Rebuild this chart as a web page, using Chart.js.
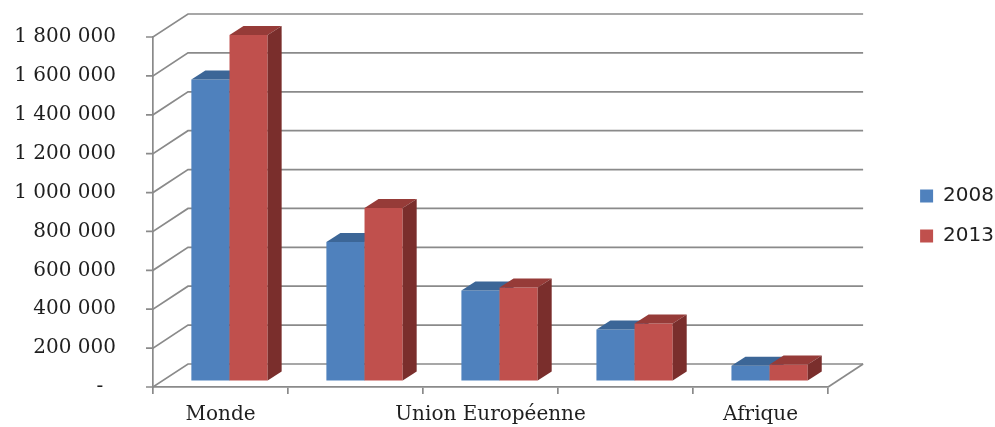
<!DOCTYPE html>
<html>
<head>
<meta charset="utf-8">
<script src="https://cdn.jsdelivr.net/npm/chart.js@4.4.1/dist/chart.umd.min.js"></script>
<style>
  html, body { margin: 0; padding: 0; background: #fff; }
</style>
</head>
<body>
<canvas id="chart" width="995" height="427"></canvas>
<script>
const categories = ['Monde', '', 'Union Européenne', '', 'Afrique'];
const years = ['2008', '2013'];
const values2008 = [1550000, 715000, 465000, 265000, 78000];
const values2013 = [1780000, 890000, 481000, 296000, 85000];
const yMax = 1800000;
const yStep = 200000;

const frontColors = ['#4F81BD', '#C0504D'];
const topColors = ['#3C6697', '#963B38'];
const sideColors = ['#2F5078', '#7A2E2C'];

const GRID = '#8a8a8a';
const TEXT = '#1f1f1f';
const WALL = { x: 35, y: -23 };      // depth of the side wall / floor
const BAR_SHIFT = { x: 9, y: -6 };   // bars sit a bit behind the front plane
const BAR_DEPTH = { x: 14, y: -9 };  // thickness of each bar
const TICK = 7;                      // tick marks on the front axes

// 1 800 000 style thousands
function spaced(v) {
  return String(v).replace(/\B(?=(\d{3})+(?!\d))/g, ' ');
}

const box3d = {
  id: 'box3d',
  // side wall, back wall and floor lines
  beforeDatasetsDraw(chart) {
    const { ctx, chartArea: a, scales: { y } } = chart;
    ctx.save();
    ctx.strokeStyle = GRID;
    ctx.lineWidth = 1.7;
    y.ticks.forEach(t => {
      const py = y.getPixelForValue(t.value);
      ctx.beginPath();
      ctx.moveTo(a.left - TICK, py);
      ctx.lineTo(a.left, py);
      ctx.lineTo(a.left + WALL.x, py + WALL.y);
      ctx.lineTo(a.right + WALL.x, py + WALL.y);
      ctx.stroke();
    });
    ctx.beginPath();
    ctx.moveTo(a.right, a.bottom);
    ctx.lineTo(a.right + WALL.x, a.bottom + WALL.y);
    ctx.stroke();
    ctx.restore();
  },
  // bars are drawn below, category by category, so neighbours overlap properly
  beforeDatasetDraw() {
    return false;
  },
  afterDatasetsDraw(chart) {
    const ctx = chart.ctx;
    const metas = chart.data.datasets.map((d, i) => chart.getDatasetMeta(i));
    ctx.save();
    ctx.translate(BAR_SHIFT.x, BAR_SHIFT.y);
    categories.forEach((c, j) => {
      metas.forEach((meta, i) => {
        const bar = meta.data[j];
        bar.draw(ctx);
        const { x, y, base, width } = bar.getProps(['x', 'y', 'base', 'width'], true);
        const l = x - width / 2;
        const r = x + width / 2;
        // top face
        ctx.fillStyle = topColors[i];
        ctx.beginPath();
        ctx.moveTo(l, y);
        ctx.lineTo(r, y);
        ctx.lineTo(r + BAR_DEPTH.x, y + BAR_DEPTH.y);
        ctx.lineTo(l + BAR_DEPTH.x, y + BAR_DEPTH.y);
        ctx.closePath();
        ctx.fill();
        // right side
        ctx.fillStyle = sideColors[i];
        ctx.beginPath();
        ctx.moveTo(r, y);
        ctx.lineTo(r + BAR_DEPTH.x, y + BAR_DEPTH.y);
        ctx.lineTo(r + BAR_DEPTH.x, base + BAR_DEPTH.y);
        ctx.lineTo(r, base);
        ctx.closePath();
        ctx.fill();
      });
    });
    ctx.restore();
  }
};

const ctx = document.getElementById('chart').getContext('2d');
new Chart(ctx, {
  type: 'bar',
  data: {
    labels: categories,
    datasets: [
      { label: years[0], data: values2008, backgroundColor: frontColors[0] },
      { label: years[1], data: values2013, backgroundColor: frontColors[1] }
    ]
  },
  options: {
    responsive: false,
    animation: false,
    datasets: {
      bar: { categoryPercentage: 0.565, barPercentage: 1, borderWidth: 0 }
    },
    layout: { padding: { top: 37, left: 0, right: -9, bottom: 0 } },
    scales: {
      x: {
        ticks: {
          autoSkip: false, maxRotation: 0, padding: 9, color: TEXT,
          font: { family: 'DejaVu Serif', size: 20 }
        },
        grid: { drawOnChartArea: false, offset: true, tickLength: TICK, color: GRID, lineWidth: 1.7 },
        border: { color: GRID, width: 1.7 },
        afterFit: s => { s.height = 40; }
      },
      y: {
        min: 0,
        max: yMax,
        ticks: {
          stepSize: yStep, padding: 4, color: TEXT,
          font: { family: 'DejaVu Serif', size: 20 },
          callback: v => v === 0 ? '-  ' : spaced(v)
        },
        // long invisible ticks push the labels left; the short visible ones come from the plugin
        grid: { drawOnChartArea: false, tickLength: 33, tickColor: 'rgba(0,0,0,0)' },
        border: { color: GRID, width: 1.7 },
        afterFit: s => { s.width = 153; }
      },
      // empty space between the back wall and the legend
      gap: {
        type: 'linear', position: 'right', display: true,
        grid: { display: false }, border: { display: false }, ticks: { display: false },
        afterFit: s => { s.width = 72; }
      }
    },
    plugins: {
      legend: {
        position: 'right',
        fullSize: false,
        // empty title only nudges the items down a little
        title: { display: true, text: '', font: { size: 5 }, padding: { top: 2, bottom: 0 } },
        labels: {
          boxWidth: 13, boxHeight: 13, padding: 20, color: TEXT,
          font: { family: 'DejaVu Sans', size: 20 }
        }
      }
    }
  },
  plugins: [box3d]
});
</script>
</body>
</html>
